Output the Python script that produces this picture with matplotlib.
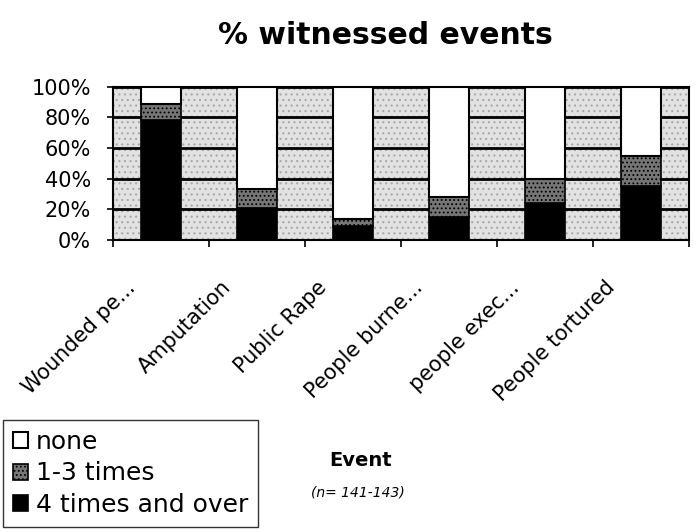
import numpy as np
import matplotlib
matplotlib.use('Agg')
import matplotlib.pyplot as plt
import matplotlib.transforms as mtransforms
from matplotlib.patches import Rectangle

# Data (percent of respondents)
events = ['Wounded pe...', 'Amputation', 'Public Rape', 'People burne...',
          'people exec...', 'People tortured']
four_plus = [78, 21, 9, 15, 24, 35]
one_three = [11, 12, 5, 13, 16, 20]
none = [11, 67, 86, 72, 60, 45]
yticks = [0, 20, 40, 60, 80, 100]

plt.rcParams['font.family'] = ['DejaVu Sans']
plt.rcParams['hatch.linewidth'] = 0.8

fig = plt.figure(figsize=(6.97, 5.32), dpi=100)
ax = fig.add_axes([113/697, 1 - 240/532, (689 - 113)/697, (240 - 86.7)/532])

x = np.arange(len(events))
w = 0.42

# stippled plot background
ax.add_patch(Rectangle((-0.5, 0), len(events), 100, facecolor='#e2e2e2',
                       edgecolor='#a8a8a8', hatch='...', linewidth=0, zorder=0))
for y in yticks[1:]:
    ax.axhline(y, color='black', lw=2, zorder=1)

b1 = ax.bar(x, four_plus, w, color='black', edgecolor='black', lw=1.2,
            zorder=3, label='4 times and over')
b2 = ax.bar(x, one_three, w, bottom=four_plus, color='#767676',
            edgecolor='black', hatch='....', lw=1.2, zorder=3,
            label='1-3 times')
bot = np.array(four_plus) + np.array(one_three)
b3 = ax.bar(x, none, w, bottom=bot, color='white', edgecolor='black',
            lw=1.5, zorder=3, label='none')

ax.set_xlim(-0.5, len(events) - 0.5)
ax.set_ylim(0, 100)
ax.set_yticks(yticks)
ax.set_yticklabels(['%d%%' % v for v in yticks], fontsize=15)
ax.set_xticks(x)
ax.set_xticklabels(events, rotation=45, ha='right', va='center',
                   rotation_mode='anchor', fontsize=15)
ax.tick_params(axis='x', length=0, pad=11)
shift = mtransforms.ScaledTranslation(-0.29, -0.29, fig.dpi_scale_trans)
for lab in ax.get_xticklabels():
    lab.set_transform(lab.get_transform() + shift)
ax.set_xticks(np.arange(-0.5, len(events)), minor=True)
ax.tick_params(axis='x', which='minor', length=5, width=1.2, direction='out')
ax.tick_params(axis='y', length=4, width=1.2, direction='out', pad=12)
for s in ax.spines.values():
    s.set_color('black')
    s.set_linewidth(1.5)

fig.text(385/697, 1 - 35/532, '% witnessed events', ha='center', va='center',
         fontsize=21.5, fontweight='bold')
fig.text(361/697, 1 - 461/532, 'Event', ha='center', va='center',
         fontsize=14, fontweight='bold')
fig.text(358/697, 1 - 492/532, '(n= 141-143)', ha='center', va='center',
         fontsize=10, style='italic')

leg = fig.legend(handles=[b3, b2, b1], loc='lower left',
                 bbox_to_anchor=(3/697, 1 - 527/532), fontsize=18,
                 frameon=True, fancybox=False, handlelength=0.6,
                 handleheight=0.6, handletextpad=0.3, labelspacing=0.3,
                 borderpad=0.4, borderaxespad=0)
leg.get_frame().set_edgecolor('black')
leg.get_frame().set_linewidth(1.0)

fig.savefig('out.png', dpi=100)
